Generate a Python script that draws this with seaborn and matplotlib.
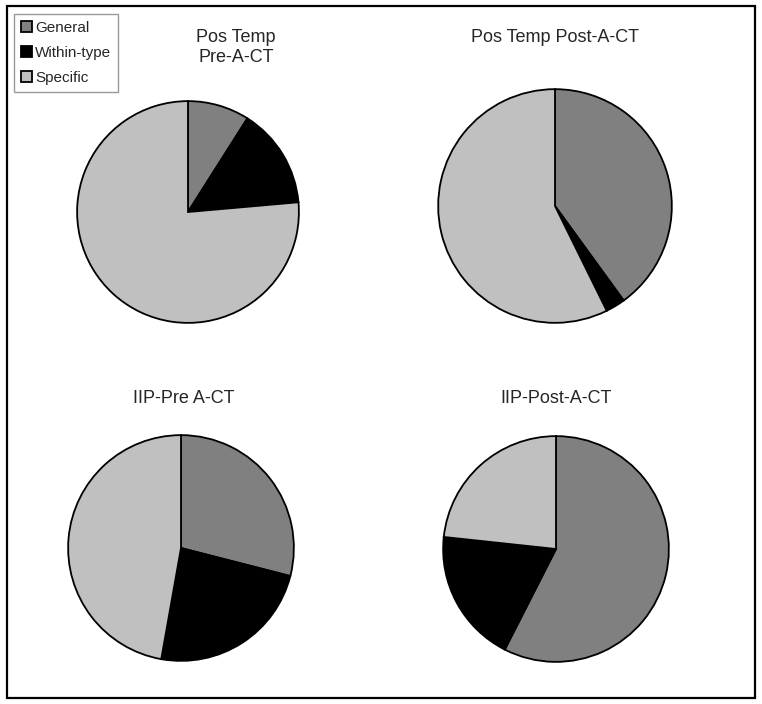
import matplotlib
matplotlib.use("Agg")
import matplotlib.pyplot as plt
import seaborn as sns
from matplotlib.patches import Rectangle

# Shares per chart (percent)
categories = ["General", "Within-type", "Specific"]
titles = ["Pos Temp\nPre-A-CT", "Pos Temp Post-A-CT", "IIP-Pre A-CT", "IIP-Post-A-CT"]
general = [9.0, 40.0, 29.0, 57.5]
within_type = [14.6, 2.7, 23.8, 19.2]
specific = [76.4, 57.3, 47.2, 23.3]

sns.set_style("white")
plt.rcParams["font.family"] = ["Liberation Sans", "DejaVu Sans"]
colors = ["#808080", "#000000", "#c0c0c0"]

W, H = 762, 704
fig = plt.figure(figsize=(W / 100, H / 100), dpi=100)

# pie centres / radii in pixels, and title centres
pie_geom = [(188, 212, 112), (555, 206, 118), (181, 548, 114), (556, 549, 114)]
title_pos = [(236, 29), (555, 29), (184, 390), (556, 390)]

wedges = None
for i, (cx, cy, r) in enumerate(pie_geom):
    ax = fig.add_axes([(cx - r) / W, (H - cy - r) / H, 2 * r / W, 2 * r / H])
    vals = [general[i], within_type[i], specific[i]]
    w, _ = ax.pie(vals, colors=colors, startangle=90, counterclock=False,
                  wedgeprops=dict(edgecolor="black", linewidth=1.3))
    ax.set_xlim(-1.01, 1.01)
    ax.set_ylim(-1.01, 1.01)
    ax.set_aspect("equal")
    ax.axis("off")
    if wedges is None:
        wedges = w
    tx, ty = title_pos[i]
    fig.text(tx / W, 1 - ty / H, titles[i], ha="center", va="top",
             multialignment="center", fontsize=13, linespacing=1.25)

leg = fig.legend(wedges, categories, loc="upper left",
                 bbox_to_anchor=(14 / W, 1 - 14 / H), borderaxespad=0,
                 fontsize=11, handlelength=0.75, handleheight=0.75,
                 handletextpad=0.2, labelspacing=0.72, borderpad=0.45,
                 fancybox=False, frameon=True)
leg.get_frame().set_edgecolor("#808080")
leg.get_frame().set_linewidth(1.0)

# outer border
fig.add_artist(Rectangle((7 / W, 1 - 698 / H), (755 - 7) / W, (698 - 6) / H,
                         transform=fig.transFigure, fill=False,
                         edgecolor="black", linewidth=1.6))

fig.savefig("out.png", dpi=100, facecolor="white")
